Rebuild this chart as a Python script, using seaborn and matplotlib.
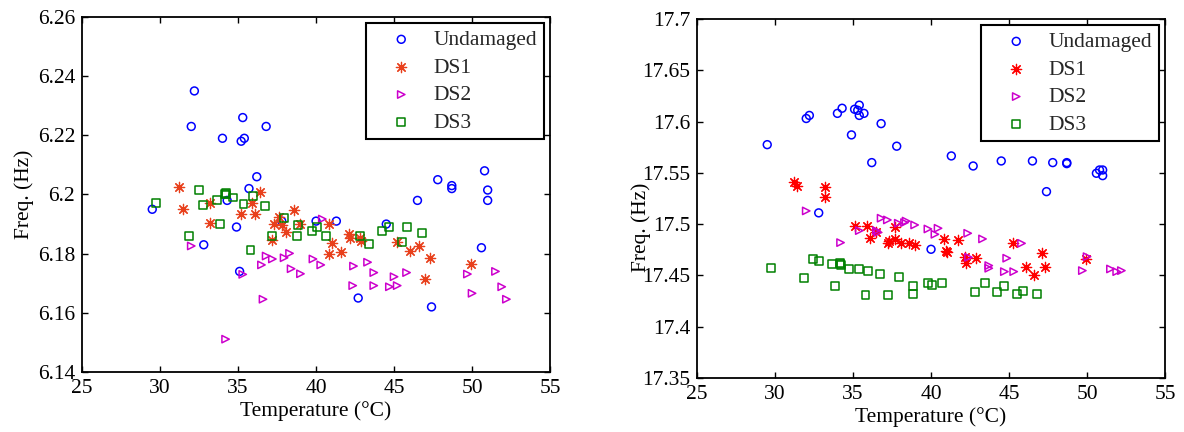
import matplotlib
matplotlib.use("Agg")
import matplotlib.pyplot as plt
import pandas as pd
import seaborn as sns
from matplotlib.ticker import FuncFormatter, MultipleLocator

# ---------------- first mode (left panel) ----------------
und_T_1 = [29.5, 32.0, 32.2, 32.8, 34.0, 34.3, 34.9, 35.1, 35.2, 35.3, 35.4, 35.7, 36.2, 36.8,
           37.8, 40.0, 41.3, 42.7, 44.5, 46.5, 47.4, 47.8, 48.7, 48.7, 50.6, 50.8, 51.0, 51.0]
und_F_1 = [6.195, 6.223, 6.235, 6.183, 6.219, 6.198, 6.189, 6.174, 6.218, 6.226, 6.219, 6.202,
           6.206, 6.223, 6.191, 6.191, 6.191, 6.165, 6.190, 6.198, 6.162, 6.205, 6.203, 6.202,
           6.182, 6.208, 6.2015, 6.198]

ds1_T_1 = [31.2, 31.5, 33.2, 33.2, 35.2, 35.9, 36.1, 36.4, 37.2, 37.3, 37.6, 37.8, 38.1, 38.6,
           39.0, 40.8, 40.8, 41.0, 41.6, 42.1, 42.2, 42.8, 42.9, 45.2, 46.0, 46.6, 47.0, 47.3, 49.9]
ds1_F_1 = [6.2025, 6.195, 6.197, 6.1905, 6.1934, 6.197, 6.1934, 6.201, 6.1846, 6.190, 6.1925,
           6.1897, 6.1874, 6.1948, 6.1899, 6.1899, 6.1798, 6.1835, 6.1805, 6.1865, 6.1854,
           6.1854, 6.1844, 6.1838, 6.181, 6.1827, 6.1715, 6.1786, 6.1766]

ds2_T_1 = [32.0, 34.2, 35.3, 36.5, 36.6, 36.8, 37.2, 37.95, 38.3, 38.4, 39.0, 39.8, 40.3, 40.4,
           42.35, 42.4, 43.3, 43.7, 43.7, 44.7, 45.0, 45.2, 45.8, 49.7, 50.0, 51.5, 51.9, 52.2]
ds2_F_1 = [6.1826, 6.1511, 6.173, 6.1762, 6.1646, 6.1792, 6.1782, 6.1786, 6.1801, 6.1749,
           6.1732, 6.1782, 6.1762, 6.1917, 6.1692, 6.1758, 6.1771, 6.1736, 6.1692, 6.1688,
           6.1722, 6.1692, 6.1736, 6.1731, 6.1666, 6.174, 6.1688, 6.1646]

ds3_T_1 = [29.75, 31.85, 32.5, 32.75, 33.65, 33.85, 34.15, 34.2, 34.25, 34.7, 35.35, 35.8,
           35.95, 36.75, 37.2, 37.95, 38.8, 38.85, 39.75, 40.05, 40.65, 42.8, 43.4, 44.25,
           44.65, 45.5, 45.85, 46.8]
ds3_F_1 = [6.1972, 6.1861, 6.2015, 6.1964, 6.1981, 6.1899, 6.2002, 6.2006, 6.2, 6.199, 6.1968,
           6.1812, 6.1995, 6.196, 6.1861, 6.192, 6.1861, 6.1897, 6.1878, 6.1889, 6.1861, 6.1861,
           6.1832, 6.1878, 6.1889, 6.1838, 6.1891, 6.1869]

# ---------------- second mode (right panel) ----------------
und_T_2 = [29.5, 32.0, 32.2, 32.8, 34.0, 34.3, 34.9, 35.1, 35.3, 35.4, 35.4, 35.7, 36.2, 36.8,
           37.8, 40.0, 41.3, 42.7, 44.5, 46.5, 47.4, 47.8, 48.7, 48.7, 50.6, 50.8, 51.0, 51.0]
und_F_2 = [17.5775, 17.603, 17.606, 17.511, 17.608, 17.613, 17.587, 17.612, 17.611, 17.616,
           17.606, 17.608, 17.560, 17.598, 17.576, 17.4755, 17.5665, 17.5567, 17.5616, 17.5616,
           17.5317, 17.560, 17.560, 17.559, 17.5496, 17.5528, 17.5528, 17.5473]

ds1_T_2 = [31.2, 31.4, 33.2, 33.2, 35.1, 35.9, 36.1, 36.5, 37.25, 37.3, 37.7, 37.7, 38.1, 38.6,
           39.0, 40.85, 40.95, 41.0, 41.7, 42.2, 42.25, 42.9, 45.25, 46.1, 46.6, 47.1, 47.3, 49.95]
ds1_F_2 = [17.5414, 17.5375, 17.536, 17.5262, 17.4982, 17.4982, 17.4868, 17.4927, 17.4813,
           17.4839, 17.4976, 17.4856, 17.4813, 17.482, 17.4797, 17.4856, 17.4742, 17.473,
           17.4846, 17.4683, 17.4619, 17.4668, 17.4813, 17.4586, 17.4505, 17.4722, 17.4583,
           17.4661]

ds2_T_2 = [32.0, 34.2, 35.4, 36.5, 36.6, 36.8, 37.2, 37.9, 38.3, 38.4, 38.95, 39.8, 40.25,
           40.45, 42.35, 42.4, 43.3, 43.7, 43.7, 44.7, 44.85, 45.3, 45.8, 49.7, 50.0, 51.5, 51.9,
           52.2]
ds2_F_2 = [17.5129, 17.482, 17.4937, 17.4937, 17.492, 17.5058, 17.5041, 17.5009, 17.5015,
           17.503, 17.4992, 17.4953, 17.4901, 17.496, 17.4911, 17.4677, 17.4856, 17.4596,
           17.457, 17.4537, 17.4668, 17.4537, 17.4813, 17.4547, 17.4683, 17.4563, 17.4537,
           17.4547]

ds3_T_2 = [29.75, 31.85, 32.45, 32.8, 33.65, 33.85, 34.15, 34.2, 34.25, 34.75, 35.4, 35.8,
           35.95, 36.75, 37.25, 37.95, 38.85, 38.85, 39.8, 40.05, 40.7, 42.8, 43.45, 44.25,
           44.7, 45.5, 45.9, 46.8]
ds3_F_2 = [17.457, 17.4473, 17.4658, 17.4644, 17.4612, 17.4398, 17.4619, 17.461, 17.4605,
           17.456, 17.456, 17.431, 17.4544, 17.4512, 17.431, 17.4483, 17.4398, 17.432, 17.4424,
           17.4405, 17.4424, 17.4336, 17.4424, 17.4336, 17.4398, 17.432, 17.4349, 17.432]

states = ["Undamaged", "DS1", "DS2", "DS3"]


def build_frame(series):
    rows = []
    for state, (temps, freqs) in zip(states, series):
        rows += [{"Temperature": t, "Freq": f, "State": state} for t, f in zip(temps, freqs)]
    return pd.DataFrame(rows)


df1 = build_frame([(und_T_1, und_F_1), (ds1_T_1, ds1_F_1), (ds2_T_1, ds2_F_1), (ds3_T_1, ds3_F_1)])
df2 = build_frame([(und_T_2, und_F_2), (ds1_T_2, ds1_F_2), (ds2_T_2, ds2_F_2), (ds3_T_2, ds3_F_2)])

sns.set_style("ticks")
plt.rcParams.update({
    "font.family": ["Liberation Serif", "DejaVu Serif"],
    "font.size": 15,
    "xtick.direction": "in",
    "ytick.direction": "in",
    "xtick.top": True,
    "ytick.right": True,
    "xtick.major.size": 4,
    "ytick.major.size": 4,
    "xtick.major.width": 1.0,
    "ytick.major.width": 1.0,
    "axes.linewidth": 1.3,
    "axes.edgecolor": "black",
    "xtick.color": "black",
    "ytick.color": "black",
    "axes.labelcolor": "black",
})

fig = plt.figure(figsize=(11.84, 4.32), dpi=100)
ax1 = fig.add_axes([0.0693, 0.1389, 0.3953, 0.8218])
ax2 = fig.add_axes([0.5887, 0.1250, 0.3953, 0.8310])

styles_1 = {
    "Undamaged": dict(marker="o", color="#0000ff", s=32, filled=True),
    "DS1": dict(marker=(8, 2, 0), color="#e8401c", s=55, filled=False),
    "DS2": dict(marker=">", color="#cc00cc", s=28, filled=True),
    "DS3": dict(marker="s", color="#008000", s=32, filled=True),
}
styles_2 = dict(styles_1)
styles_2["DS1"] = dict(marker=(8, 2, 0), color="#ff0000", s=55, filled=False)


def draw_panel(ax, df, styles, ylim, ystep, ylabel_xy):
    for state in states:
        st = styles[state]
        sub = df[df["State"] == state]
        if st["filled"]:
            sns.scatterplot(data=sub, x="Temperature", y="Freq", ax=ax, marker=st["marker"],
                            s=st["s"], facecolor="none", edgecolor=st["color"],
                            linewidth=1.1, label=state)
        else:
            sns.scatterplot(data=sub, x="Temperature", y="Freq", ax=ax, marker=st["marker"],
                            s=st["s"], color=st["color"], linewidth=0.9, label=state)
    ax.set_xlim(25, 55)
    ax.set_ylim(*ylim)
    ax.xaxis.set_major_locator(MultipleLocator(5))
    ax.yaxis.set_major_locator(MultipleLocator(ystep))
    ax.yaxis.set_major_formatter(FuncFormatter(lambda v, p: f"{round(v, 4):g}"))
    ax.tick_params(labelsize=15.5, pad=5)
    ax.set_xlabel("Temperature (\u00b0C)", fontsize=15.5, labelpad=2)
    ax.set_ylabel("Freq. (Hz)", fontsize=15.5)
    ax.yaxis.set_label_coords(*ylabel_xy)
    for sp in ax.spines.values():
        sp.set_visible(True)
    leg = ax.legend(loc="upper right", frameon=True, fancybox=False, framealpha=1,
                    edgecolor="black", fontsize=15.5, borderaxespad=0.3, scatterpoints=1,
                    handlelength=2.7, handletextpad=0.15, labelspacing=0.35, borderpad=0.3)
    leg.get_frame().set_linewidth(1.5)


draw_panel(ax1, df1, styles_1, (6.14, 6.26), 0.02, (-0.103, 0.5))
draw_panel(ax2, df2, styles_2, (17.35, 17.7), 0.05, (-0.099, 0.42))

fig.savefig("out.png", dpi=100)
